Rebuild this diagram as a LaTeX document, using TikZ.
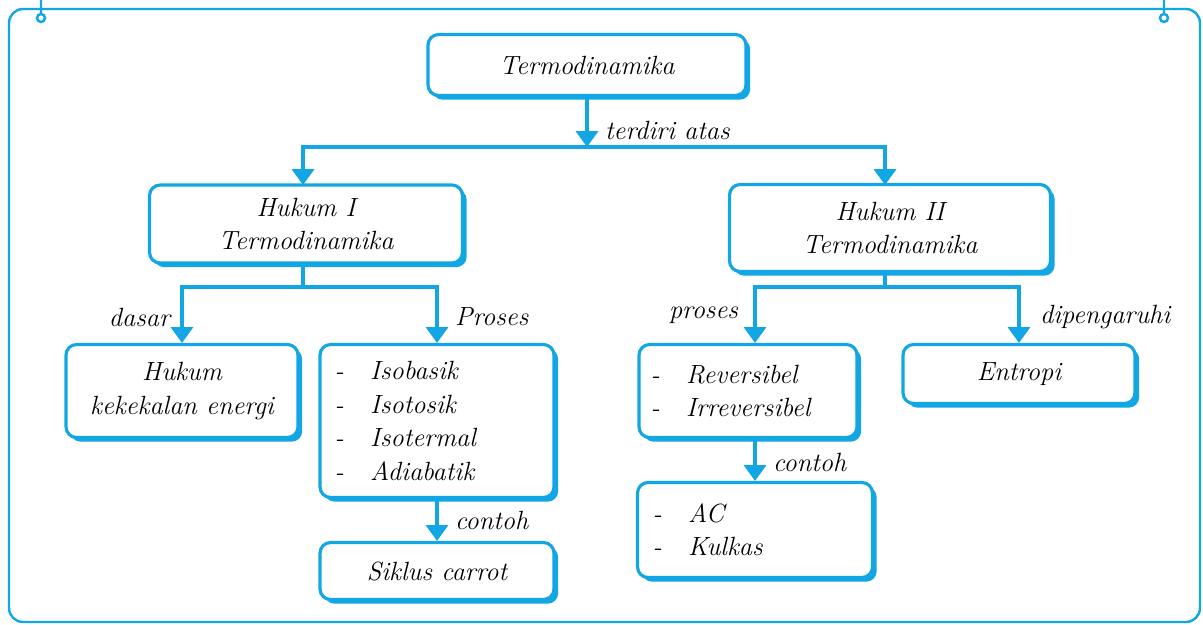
\documentclass[tikz,border=0pt]{standalone}
\usepackage{tikz}
\usetikzlibrary{arrows.meta,positioning,shadows}

\definecolor{skyb}{RGB}{18,166,228}

\begin{document}
\begin{tikzpicture}[
  x=0.02cm,
  y=-0.02cm,
  every node/.style={font=\fontsize{15}{19}\selectfont\itshape},
  box/.style={draw=skyb,line width=1.8pt,fill=white,rounded corners=6pt,
    drop shadow={shadow xshift=2.4pt,shadow yshift=-2.4pt,fill=skyb,opacity=1},
    align=center,inner sep=2pt},
  listbox/.style={box,align=left},
  link/.style={draw=skyb,line width=1.9pt},
  arr/.style={link,-{Triangle[length=9pt,width=12.5pt]}},
  lbl/.style={inner sep=1pt}
]
\useasboundingbox (0,0) rectangle (1203,625);

% frame
\draw[skyb,line width=1.4pt,rounded corners=8pt] (9,9) rectangle (1200,622);
\draw[skyb,line width=1.4pt] (41,0) -- (41,14) (41,18) circle[radius=4];
\draw[skyb,line width=1.4pt] (1164,0) -- (1164,14) (1164,18) circle[radius=4];

% level 1
\node[box,minimum width=6.36cm,minimum height=1.22cm] (termo) at (587,65) {Termodinamika};

% level 2
\node[box,minimum width=6.26cm,minimum height=1.56cm] (huk1) at (306,224) {Hukum I\\Termodinamika};
\node[box,minimum width=6.42cm,minimum height=1.74cm] (huk2) at (890,228) {Hukum II\\Termodinamika};

% level 3
\node[box,minimum width=4.64cm,minimum height=1.86cm] (kekal) at (182,391) {Hukum\\kekekalan energi};
\node[listbox,minimum width=4.68cm,minimum height=3.06cm,text width=4.1cm] (proses) at (437,421)
  {-\quad Isobasik\\-\quad Isotosik\\-\quad Isotermal\\-\quad Adiabatik};
\node[listbox,minimum width=4.36cm,minimum height=1.86cm,text width=3.9cm] (rever) at (748,391)
  {-\quad Reversibel\\-\quad Irreversibel};
\node[box,minimum width=4.64cm,minimum height=1.18cm] (entro) at (1019,374) {Entropi};

% level 4
\node[box,minimum width=4.68cm,minimum height=1.14cm] (siklus) at (437,571) {Siklus carrot};
\node[listbox,minimum width=4.7cm,minimum height=1.9cm,text width=4.1cm] (kulkas) at (755,530)
  {-\quad AC\\-\quad Kulkas};

% junctions
\coordinate (jt) at (587,147);
\coordinate (j1) at (303,287);
\coordinate (j2) at (885,287);

% connectors
\draw[arr] (termo.south) -- (jt);
\draw[arr] (jt) -| (303,185);
\draw[arr] (jt) -| (885,185);
\draw[link] (huk1.south -| j1) -- (j1);
\draw[arr] (j1) -| (kekal.north);
\draw[arr] (j1) -| (proses.north);
\draw[link] (huk2.south -| j2) -- (j2);
\draw[arr] (j2) -| (kulkas.north |- rever.north);
\draw[arr] (j2) -| (entro.north);
\draw[arr] (proses.south) -- (siklus.north);
\draw[arr] (kulkas.north |- rever.south) -- (kulkas.north);

% labels
\node[lbl,anchor=west] (lterdiri) at (603,130) {terdiri atas};
\node[lbl,anchor=east] (ldasar) at (172,317) {dasar};
\node[lbl,anchor=west] (lproses) at (453,317) {Proses};
\node[lbl,anchor=east] (lproses2) at (740,315) {proses};
\node[lbl,anchor=west] (lpengaruh) at (1038,317) {dipengaruhi};
\node[lbl,anchor=west] (lcontoh) at (453,520) {contoh};
\node[lbl,anchor=west] (lcontoh2) at (771,462) {contoh};
\end{tikzpicture}
\end{document}
